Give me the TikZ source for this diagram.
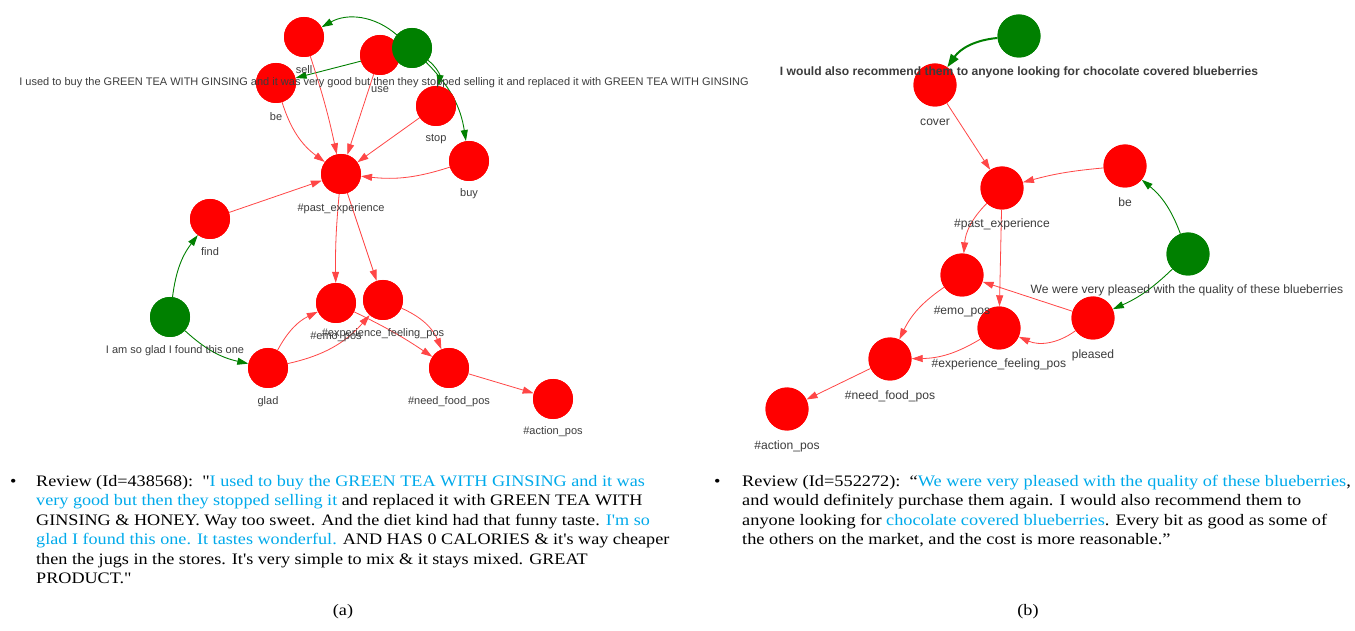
\documentclass[tikz,border=0pt]{standalone}
\usepackage{fontspec}
\usetikzlibrary{arrows.meta}
\newfontfamily\lblfont{Liberation Sans}
\newfontfamily\revfont{Liberation Serif}[Ligatures=TeXOff, FakeStretch=1.135]
\newfontfamily\revfontb{Liberation Serif}[Ligatures=TeXOff, FakeStretch=1.145]
\definecolor{nred}{RGB}{255,0,0}
\definecolor{ngreen}{RGB}{0,128,0}
\definecolor{ered}{RGB}{255,70,70}
\definecolor{lblgray}{RGB}{60,60,60}
\definecolor{revblue}{RGB}{0,170,235}
\tikzset{
  rnodeA/.style={circle, fill=nred, minimum size=40pt, inner sep=0},
  gnodeA/.style={circle, fill=ngreen, minimum size=40pt, inner sep=0},
  rnodeB/.style={circle, fill=nred, minimum size=43pt, inner sep=0},
  gnodeB/.style={circle, fill=ngreen, minimum size=43pt, inner sep=0},
  lbl/.style={font=\lblfont\fontsize{11}{13}\selectfont, text=lblgray, inner sep=0},
  lblb/.style={font=\lblfont\fontsize{12.1}{14}\selectfont, text=lblgray, inner sep=0},
  blbl/.style={font=\lblfont\bfseries\fontsize{12.1}{14}\selectfont, text=lblgray, inner sep=0},
  redge/.style={draw=ered, line width=0.8pt, -{Triangle[length=11pt,width=7pt]}},
  gedge/.style={draw=ngreen, line width=0.9pt, -{Triangle[length=11pt,width=7pt]}},
  gedgethick/.style={draw=ngreen, line width=2pt, -{Triangle[length=13pt,width=9pt]}},
  rev/.style={font=\revfont\fontsize{16}{19}\selectfont, anchor=base west, inner sep=0, text=black},
  revb/.style={font=\revfontb\fontsize{16}{19}\selectfont, anchor=base west, inner sep=0, text=black},
  capt/.style={font=\revfont\fontsize{16}{19}\selectfont, anchor=base, inner sep=0, text=black}
}
\begin{document}
\begin{tikzpicture}[x=1pt,y=1pt]
\useasboundingbox[fill=white] (0,0) rectangle (1355,630);

% ---------------- Panel (a) nodes ----------------
\node[rnodeA] (sell) at (304,593) {};
\node[rnodeA] (be) at (276,547) {};
\node[rnodeA] (use) at (380,575) {};
\node[gnodeA] (g1) at (412,582) {};
\node[rnodeA] (stop) at (436,524) {};
\node[rnodeA] (buy) at (469,469) {};
\node[rnodeA] (pastA) at (341,456) {};
\node[rnodeA] (findA) at (210,411) {};
\node[gnodeA] (g2) at (170,313) {};
\node[rnodeA] (emoA) at (336,327) {};
\node[rnodeA] (expA) at (383,330) {};
\node[rnodeA] (glad) at (268,262) {};
\node[rnodeA] (needA) at (449,262) {};
\node[rnodeA] (actA) at (553,231) {};

% ---------------- Panel (a) edges ----------------
\draw[gedge] (g1) to[bend right=35] (sell);
\draw[gedge] (g1) to (be);
\draw[gedge] (g1) to[bend left=30] (stop);
\draw[gedge] (g1) to[bend left=18] (buy);
\draw[redge] (sell) to[bend left=3] (pastA);
\draw[redge] (use) to (pastA);
\draw[redge] (be) to[bend right=18] (pastA);
\draw[redge] (stop) to (pastA);
\draw[redge] (buy) to[bend left=12] (pastA);
\draw[redge] (findA) to (pastA);
\draw[redge] (pastA) to[bend right=3] (emoA);
\draw[redge] (pastA) to (expA);
\draw[redge] (glad) to[bend left=18] (emoA);
\draw[redge] (glad) to[bend right=18] (expA);
\draw[redge] (emoA) to[bend left=4] (needA);
\draw[redge] (expA) to[bend left=22] (needA);
\draw[redge] (needA) to (actA);
\draw[gedge] (g2) to[bend left=15] (findA);
\draw[gedge] (g2) to[bend right=15] (glad);

% redraw nodes on top of edges
\node[rnodeA] at (sell) {};
\node[rnodeA] at (be) {};
\node[rnodeA] at (use) {};
\node[gnodeA] at (g1) {};
\node[rnodeA] at (stop) {};
\node[rnodeA] at (buy) {};
\node[rnodeA] at (pastA) {};
\node[rnodeA] at (findA) {};
\node[gnodeA] at (g2) {};
\node[rnodeA] at (emoA) {};
\node[rnodeA] at (expA) {};
\node[rnodeA] at (glad) {};
\node[rnodeA] at (needA) {};
\node[rnodeA] at (actA) {};

% ---------------- Panel (a) labels ----------------
\node[lbl] (sellL) at (304,560) {sell};
\node[lbl] (useL) at (380,540) {use};
\node[lbl] (beL) at (276,513) {be};
\node[lbl] (stopL) at (436,491) {stop};
\node[lbl] (buyL) at (469,436) {buy};
\node[lbl] (pastAL) at (341,421) {\#past\_experience};
\node[lbl] (findAL) at (210,378) {find};
\node[lbl] (g2L) at (175,279) {I am so glad I found this one};
\node[lbl] (emoAL) at (336,293) {\#emo\_pos};
\node[lbl] (expAL) at (383,296) {\#experience\_feeling\_pos};
\node[lbl] (gladL) at (268,228) {glad};
\node[lbl] (needAL) at (449,228) {\#need\_food\_pos};
\node[lbl] (actAL) at (553,198) {\#action\_pos};
\node[lbl] (g1L) at (384,547) {I used to buy the GREEN TEA WITH GINSING and it was very good but then they stopped selling it and replaced it with GREEN TEA WITH GINSING};

% ---------------- Panel (b) nodes ----------------
\node[gnodeB] (g3) at (1019,594) {};
\node[rnodeB] (cover) at (935,545) {};
\node[rnodeB] (pastB) at (1002,442) {};
\node[rnodeB] (beB) at (1125,464) {};
\node[gnodeB] (g4) at (1188,376) {};
\node[rnodeB] (emoB) at (962,355) {};
\node[rnodeB] (expB) at (999,302) {};
\node[rnodeB] (pleased) at (1093,312) {};
\node[rnodeB] (needB) at (890,271) {};
\node[rnodeB] (actB) at (787,221) {};

% ---------------- Panel (b) edges ----------------
\draw[gedgethick] (g3) to[bend right=25] (cover);
\draw[redge] (cover) to (pastB);
\draw[redge] (beB) to[bend right=5] (pastB);
\draw[gedge] (g4) to[bend right=15] (beB);
\draw[gedge] (g4) to[bend left=10] (pleased);
\draw[redge] (pastB) to[bend right=20] (emoB);
\draw[redge] (pastB) to (expB);
\draw[redge] (pleased) to (emoB);
\draw[redge] (pleased) to[bend left=30] (expB);
\draw[redge] (emoB) to[bend right=15] (needB);
\draw[redge] (expB) to[bend left=15] (needB);
\draw[redge] (needB) to (actB);

\node[gnodeB] at (g3) {};
\node[rnodeB] at (cover) {};
\node[rnodeB] at (pastB) {};
\node[rnodeB] at (beB) {};
\node[gnodeB] at (g4) {};
\node[rnodeB] at (emoB) {};
\node[rnodeB] at (expB) {};
\node[rnodeB] at (pleased) {};
\node[rnodeB] at (needB) {};
\node[rnodeB] at (actB) {};

% ---------------- Panel (b) labels ----------------
\node[blbl] (g3L) at (1019,558) {I would also recommend them to anyone looking for chocolate covered blueberries};
\node[lblb] (coverL) at (935,508) {cover};
\node[lblb] (pastBL) at (1002,406) {\#past\_experience};
\node[lblb] (beBL) at (1125,428) {be};
\node[lblb] (emoBL) at (962,318) {\#emo\_pos};
\node[lblb] (expBL) at (999,266) {\#experience\_feeling\_pos};
\node[lblb] (pleasedL) at (1093,275) {pleased};
\node[lblb] (needBL) at (890,234) {\#need\_food\_pos};
\node[lblb] (actBL) at (787,184) {\#action\_pos};
\node[lblb] (g4L) at (1187,340) {We were very pleased with the quality of these blueberries};

% ---------------- Review texts ----------------
\node[rev] (bulA) at (10,144) {•};
\node[rev] (ra1) at (36,144) {Review (Id=438568):\ \ "\textcolor{revblue}{I used to buy the GREEN TEA WITH GINSING and it was}};
\node[rev] (ra2) at (36,124.5) {\textcolor{revblue}{very good but then they stopped selling it} and replaced it with GREEN TEA WITH};
\node[rev] (ra3) at (36,105) {GINSING \& HONEY. Way too sweet. And the diet kind had that funny taste. \textcolor{revblue}{I'm so}};
\node[rev] (ra4) at (36,85.5) {\textcolor{revblue}{glad I found this one. It tastes wonderful.} AND HAS 0 CALORIES \& it's way cheaper};
\node[rev] (ra5) at (36,66) {then the jugs in the stores. It's very simple to mix \& it stays mixed. GREAT};
\node[rev] (ra6) at (36,46.5) {PRODUCT."};
\node[capt] (capA) at (343,15) {(a)};

\node[revb] (bulB) at (714,144) {•};
\node[revb] (rb1) at (742,144) {Review (Id=552272):\ \ “\textcolor{revblue}{We were very pleased with the quality of these blueberries},};
\node[revb] (rb2) at (742,124.5) {and would definitely purchase them again. I would also recommend them to};
\node[revb] (rb3) at (742,105) {anyone looking for \textcolor{revblue}{chocolate covered blueberries}. Every bit as good as some of};
\node[revb] (rb4) at (742,85.5) {the others on the market, and the cost is more reasonable.”};
\node[capt] (capB) at (1028,15) {(b)};
\end{tikzpicture}
\end{document}
